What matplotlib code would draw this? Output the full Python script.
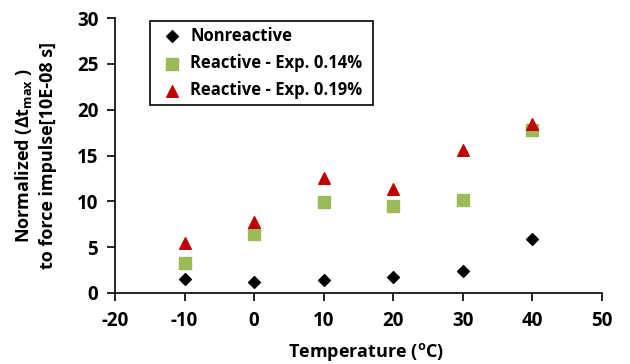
import matplotlib
matplotlib.use("Agg")
import matplotlib.pyplot as plt

plt.rcParams['font.family'] = ['Open Sans', 'DejaVu Sans']
plt.rcParams['font.weight'] = 'bold'
plt.rcParams['mathtext.fontset'] = 'custom'
plt.rcParams['mathtext.rm'] = 'Open Sans:bold'
plt.rcParams['mathtext.bf'] = 'Open Sans:bold'
plt.rcParams['mathtext.it'] = 'Open Sans:bold'
plt.rcParams['axes.unicode_minus'] = False

temps = [-10, 0, 10, 20, 30, 40]
nonreactive = [1.5, 1.2, 1.4, 1.8, 2.4, 5.9]
reactive_014 = [3.3, 6.4, 9.9, 9.5, 10.2, 17.8]
reactive_019 = [5.5, 7.7, 12.5, 11.3, 15.6, 18.4]

W, H = 630, 364
fig = plt.figure(figsize=(6.3, 3.64), dpi=100)
ax = fig.add_axes([115 / W, 1 - 293 / H, 487 / W, 275 / H])

ax.scatter(temps, nonreactive, marker="D", s=36, color="black", label="Nonreactive")
ax.scatter(temps, reactive_014, marker="s", s=70, color="#9BBB59", label="Reactive - Exp. 0.14%")
ax.scatter(temps, reactive_019, marker="^", s=70, color="#C00000", label="Reactive - Exp. 0.19%")

ax.set_xlim(-20, 50)
ax.set_ylim(0, 30)
ax.set_xticks(range(-20, 51, 10))
ax.set_yticks(range(0, 31, 5))
ax.tick_params(labelsize=13.5, width=1.2, length=6, direction="out")
ax.tick_params(axis="y", pad=6)
ax.tick_params(axis="x", pad=7)
for lab in ax.get_xticklabels() + ax.get_yticklabels():
    lab.set_fontweight("bold")
for s in ["top", "right"]:
    ax.spines[s].set_visible(False)
for s in ["left", "bottom"]:
    ax.spines[s].set_linewidth(1.2)

ax.set_xlabel("Temperature ($\\mathregular{^o}$C)", fontsize=13, fontweight="bold")
ax.set_ylabel("Normalized (Δt$_{\\mathregular{max}}$ )\nto force impulse[10E-08 s]",
              fontsize=13, fontweight="bold", linespacing=1.35)
ax.yaxis.set_label_coords((57 - 115) / 487, 0.5)
ax.xaxis.set_label_coords((366 - 115) / 487, (293 - 341) / 275)

leg = fig.legend(loc="upper left", bbox_to_anchor=(150 / W, 1 - 21 / H, 223 / W, 0),
                 mode="expand", fontsize=12, frameon=True, fancybox=False,
                 edgecolor="black", handletextpad=0.15, handlelength=1.9,
                 borderpad=0.35, labelspacing=0.55, borderaxespad=0, framealpha=1)
leg.get_frame().set_linewidth(1.2)
for t in leg.get_texts():
    t.set_fontweight("bold")

fig.savefig("out.png", dpi=100)
